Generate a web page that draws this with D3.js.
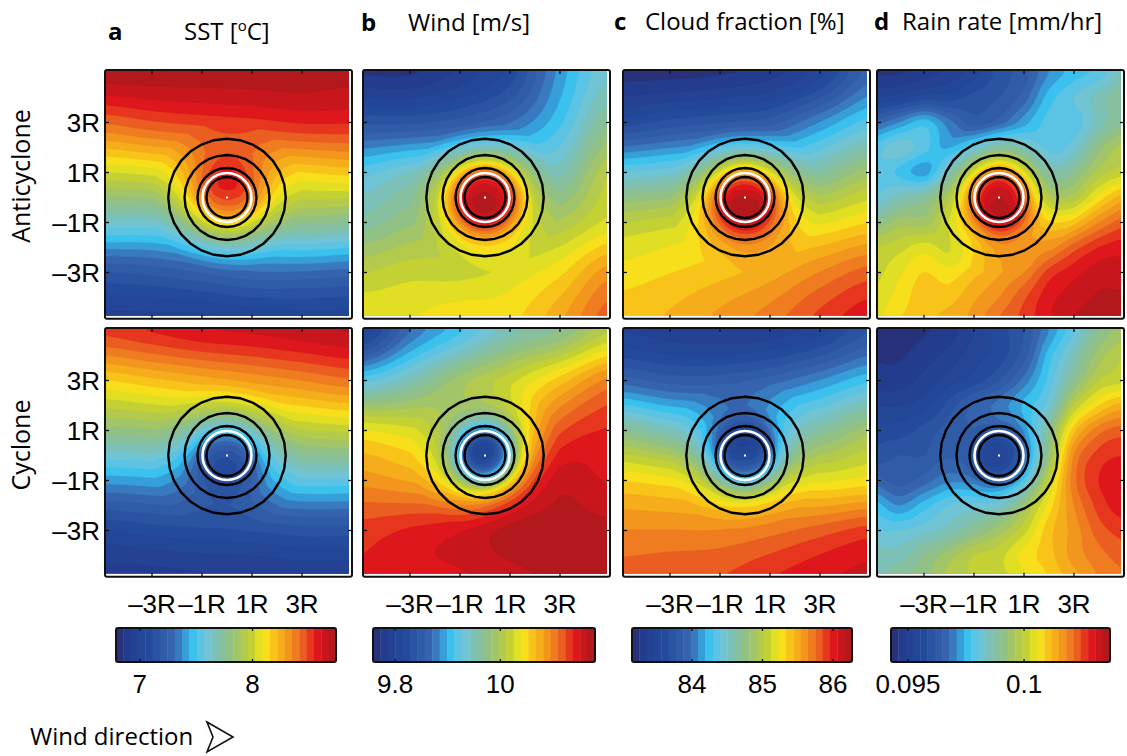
<!DOCTYPE html>
<html><head><meta charset="utf-8">
<script src="https://cdn.jsdelivr.net/npm/d3@7"></script>
<style>body{margin:0;background:#fff}svg{display:block}</style>
</head><body>
<svg id="fig" width="1127" height="756"></svg>
<script>
// ---------------- data ----------------
// coarse grid nodes (eddy radii R), rows listed from north (top) to south
const gridX = [-5, -3, -1, 1, 3, 5];
const gridY = [5, 3, 1, -1, -3, -5];
const fineX = [-5, -4, -3, -2, -1, 0, 1, 2, 3, 4, 5];
const fineY = [5, 4, 3, 2, 1, 0, -1, -2, -3, -4, -5];

// SST [ºC]
const sstAnti = [
  [8.72, 8.72, 8.72, 8.72, 8.72, 8.70],
  [8.42, 8.47, 8.50, 8.52, 8.55, 8.55],
  [8.02, 8.05, 8.10, 8.12, 8.15, 8.18],
  [7.62, 7.62, 7.68, 7.72, 7.78, 7.75],
  [7.18, 7.20, 7.25, 7.30, 7.30, 7.28],
  [6.95, 6.95, 6.95, 6.98, 7.00, 7.00]
];
const sstCyc = [
  [8.50, 8.55, 8.60, 8.62, 8.65, 8.68],
  [8.15, 8.20, 8.25, 8.30, 8.35, 8.40],
  [7.80, 7.82, 7.85, 7.90, 7.95, 7.98],
  [7.40, 7.42, 7.45, 7.50, 7.55, 7.55],
  [7.05, 7.08, 7.10, 7.12, 7.15, 7.15],
  [6.88, 6.88, 6.90, 6.90, 6.92, 6.92]
];
// Wind speed [m/s]
const windAnti = [
  [9.77, 9.77, 9.79, 9.82, 9.89, 9.94],
  [9.84, 9.84, 9.85, 9.87, 9.91, 9.97],
  [9.92, 9.94, 9.95, 9.95, 9.95, 10.01],
  [9.96, 9.98, 9.99, 9.99, 10.00, 10.03],
  [10.01, 10.02, 10.02, 10.03, 10.05, 10.09],
  [10.04, 10.04, 10.05, 10.05, 10.08, 10.12]
];
const windCyc = [
  [9.80, 9.87, 9.91, 9.95, 9.97, 10.01],
  [9.92, 9.95, 9.99, 10.02, 10.06, 10.10],
  [10.04, 10.03, 10.02, 10.05, 10.12, 10.14],
  [10.09, 10.08, 10.07, 10.12, 10.16, 10.15],
  [10.13, 10.14, 10.15, 10.17, 10.17, 10.17],
  [10.14, 10.15, 10.15, 10.16, 10.17, 10.17]
];
// Cloud fraction [%]
const cloudAnti = [
  [83.21, 83.21, 83.24, 83.31, 83.52, 83.93],
  [83.62, 83.71, 83.77, 83.84, 84.09, 84.34],
  [84.40, 84.46, 84.55, 84.55, 84.65, 84.87],
  [85.02, 85.08, 85.15, 85.18, 85.21, 85.33],
  [85.27, 85.33, 85.40, 85.49, 85.65, 85.80],
  [85.40, 85.46, 85.58, 85.71, 85.90, 86.05]
];
const cloudCyc = [
  [83.46, 83.40, 83.37, 83.40, 83.52, 83.77],
  [83.93, 83.84, 83.84, 83.93, 84.09, 84.27],
  [84.71, 84.55, 84.46, 84.55, 84.65, 84.87],
  [85.33, 85.27, 85.21, 85.27, 85.21, 85.27],
  [85.65, 85.65, 85.65, 85.71, 85.80, 85.90],
  [85.80, 85.83, 85.86, 85.96, 86.05, 86.11]
];
// Rain rate [mm/hr] on the finer 1R grid
const rainAnti = [
  [.09455,.09455,.09474,.09502,.09540,.09597,.09634,.09710,.09757,.09785,.09851],
  [.09521,.09540,.09568,.09568,.09597,.09616,.09663,.09757,.09804,.09851,.09899],
  [.09663,.09710,.09757,.09691,.09634,.09663,.09729,.09785,.09785,.09851,.09899],
  [.09785,.09823,.09785,.09729,.09757,.09804,.09804,.09785,.09823,.09917,.09974],
  [.09804,.09766,.09729,.09804,.09851,.09880,.09851,.09823,.09899,.09974,.10012],
  [.09804,.09851,.09880,.09899,.09899,.09899,.09899,.09899,.09974,.10068,.10134],
  [.09899,.09946,.09946,.09974,.09974,.09993,.10012,.10040,.10106,.10181,.10229],
  [.09993,.10012,.10040,.10012,.10040,.10087,.10106,.10163,.10229,.10276,.10295],
  [.10012,.10049,.10087,.10068,.10106,.10144,.10181,.10257,.10295,.10323,.10323],
  [.10031,.10068,.10106,.10106,.10144,.10181,.10238,.10295,.10323,.10342,.10342],
  [.10049,.10087,.10106,.10134,.10163,.10219,.10257,.10304,.10342,.10351,.10351]
];
const rainCyc = [
  [.09446,.09446,.09455,.09474,.09521,.09568,.09616,.09710,.09804,.09899,.09946],
  [.09455,.09455,.09474,.09502,.09540,.09568,.09634,.09757,.09851,.09946,.09993],
  [.09474,.09474,.09502,.09540,.09568,.09616,.09691,.09785,.09899,.09993,.10012],
  [.09521,.09521,.09540,.09597,.09663,.09710,.09757,.09823,.09993,.10087,.10134],
  [.09568,.09568,.09597,.09634,.09710,.09757,.09785,.09899,.10106,.10200,.10229],
  [.09597,.09616,.09616,.09663,.09729,.09757,.09804,.09946,.10181,.10257,.10276],
  [.09663,.09634,.09663,.09710,.09757,.09785,.09851,.10012,.10200,.10276,.10295],
  [.09757,.09710,.09757,.09804,.09823,.09851,.09946,.10068,.10181,.10257,.10295],
  [.09804,.09804,.09823,.09851,.09899,.09946,.10012,.10106,.10163,.10229,.10257],
  [.09851,.09851,.09899,.09946,.09993,.10012,.10068,.10106,.10163,.10200,.10229],
  [.09851,.09899,.09917,.09974,.09993,.10012,.10040,.10087,.10134,.10181,.10200]
];

// composite eddy anomaly as a function of distance from the eddy centre
const eddyRadii = [0, 0.5, 1, 1.5, 2, 2.5, 3];
const sstAntiEddy   = [0.60, 0.56, 0.45, 0.28, 0.14, 0.05, 0];
const sstCycEddy    = [-0.55, -0.50, -0.38, -0.22, -0.10, -0.04, 0];
const windAntiEddy  = [0.20, 0.19, 0.16, 0.09, 0.04, 0.015, 0];
const windCycEddy   = [-0.26, -0.23, -0.15, -0.063, -0.025, -0.008, 0];
const cloudAntiEddy = [1.31, 1.25, 1.00, 0.56, 0.25, 0.09, 0];
const cloudCycEddy  = [-1.31, -1.25, -0.94, -0.47, -0.19, -0.06, 0];
const rainAntiEddy  = [0.00443, 0.00415, 0.00321, 0.0017, 0.00075, 0.00028, 0];
const rainCycEddy   = [-0.00236, -0.00207, -0.00132, -0.00057, -0.00019, 0, 0];

// eddy outline contours and the 1R core circle
const outlineRadii = [0.82, 1.18, 1.7, 2.35];
const coreRadius = 0.98;

// colour-bar ranges and ticks
const sstRange = [6.79, 8.74],     sstTicks = [7, 8];
const windRange = [9.758, 10.18],  windTicks = [9.8, 10];
const cloudRange = [83.15, 86.27], cloudTicks = [84, 85, 86];
const rainRange = [0.09427, 0.1037], rainTicks = [0.095, 0.1];
const rainTickLabels = ["0.095", "0.1"];

const axisTicks = [-3, -1, 1, 3];
const axisTickLabels = ["\u20133R", "\u20131R", "1R", "3R"];
const rowNames = ["Anticyclone", "Cyclone"];
const panelLetters = ["a", "b", "c", "d"];
const panelTitles = ["SST [", "Wind [m/s]", "Cloud fraction [%]", "Rain rate [mm/hr]"];

// colour map
const cmapStops  = [0, 0.04, 0.15, 0.25, 0.30, 0.34, 0.40, 0.46, 0.52, 0.58, 0.63, 0.67, 0.71, 0.77, 0.84, 0.91, 1];
const cmapColors = ["#2a2b6c", "#243b8d", "#244b9b", "#3563ad", "#3b86c7", "#30c0ef", "#6cc6e0", "#7fc0b0", "#93c184", "#b2c94e", "#cbd42a", "#f7ea1b", "#f9c81a", "#f4a01c", "#ec6a22", "#e2171c", "#a8181c"];
const N_LEVELS = 30;

// ---------------- layout ----------------
const PX_PER_R = 25;
const colLeft = [105, 363, 623, 877];
const rowTop = [70, 328];
const xDom = [-4.88, 5.0];
const yDom = [5.1, -4.85];
const imgInset = 3;
const cbLeft = [116, 373, 632, 891];
const cbWidth = [220, 222, 220, 219];
const cbTop = 628, cbHeight = 34;

const svg = d3.select("#fig");
const cmap = d3.scaleLinear().domain(cmapStops).range(cmapColors).interpolate(d3.interpolateRgb);
const levelColors = d3.range(N_LEVELS).map(k => cmap((k + 0.5) / N_LEVELS));

function catmull(p0, p1, p2, p3, t) {
  const t2 = t * t, t3 = t2 * t;
  return 0.5 * (2 * p1 + (-p0 + p2) * t + (2 * p0 - 5 * p1 + 4 * p2 - p3) * t2 + (-p0 + 3 * p1 - 3 * p2 + p3) * t3);
}
function gridSampler(xs, ys, rows) {
  const nx = xs.length, ny = ys.length;
  const ix = d3.scaleLinear().domain([xs[0], xs[nx - 1]]).range([0, nx - 1]).clamp(true);
  const iy = d3.scaleLinear().domain([ys[0], ys[ny - 1]]).range([0, ny - 1]).clamp(true);
  const at = (r, c) => rows[Math.max(0, Math.min(ny - 1, r))][Math.max(0, Math.min(nx - 1, c))];
  return (x, y) => {
    const u = ix(x), v = iy(y);
    const i = Math.min(Math.floor(u), nx - 2), j = Math.min(Math.floor(v), ny - 2);
    const fu = u - i, fv = v - j;
    const c = [];
    for (let r = -1; r <= 2; r++) c.push(catmull(at(j + r, i - 1), at(j + r, i), at(j + r, i + 1), at(j + r, i + 2), fu));
    return catmull(c[0], c[1], c[2], c[3], fv);
  };
}

const panels = [
  { col: 0, row: 0, grid: sstAnti, xs: gridX, ys: gridY, eddy: sstAntiEddy, range: sstRange },
  { col: 0, row: 1, grid: sstCyc, xs: gridX, ys: gridY, eddy: sstCycEddy, range: sstRange },
  { col: 1, row: 0, grid: windAnti, xs: gridX, ys: gridY, eddy: windAntiEddy, range: windRange },
  { col: 1, row: 1, grid: windCyc, xs: gridX, ys: gridY, eddy: windCycEddy, range: windRange },
  { col: 2, row: 0, grid: cloudAnti, xs: gridX, ys: gridY, eddy: cloudAntiEddy, range: cloudRange },
  { col: 2, row: 1, grid: cloudCyc, xs: gridX, ys: gridY, eddy: cloudCycEddy, range: cloudRange },
  { col: 3, row: 0, grid: rainAnti, xs: fineX, ys: fineY, eddy: rainAntiEddy, range: rainRange },
  { col: 3, row: 1, grid: rainCyc, xs: fineX, ys: fineY, eddy: rainCycEddy, range: rainRange }
];

const defs = svg.append("defs");
const boxW = (xDom[1] - xDom[0]) * PX_PER_R;
const boxH = (yDom[0] - yDom[1]) * PX_PER_R;

panels.forEach((p, idx) => {
  const x0 = colLeft[p.col], y0 = rowTop[p.row];
  const xs = d3.scaleLinear().domain(xDom).range([x0, x0 + boxW]);
  const ys = d3.scaleLinear().domain(yDom).range([y0, y0 + boxH]);
  const imgW = boxW - imgInset, imgH = boxH - imgInset;
  const bg = gridSampler(p.xs, p.ys, p.grid);
  const anomaly = d3.scaleLinear().domain(eddyRadii).range(p.eddy).clamp(true);
  const color = d3.scaleQuantize().domain(p.range).range(levelColors);
  const nx = Math.round(imgW / 1.5), ny = Math.round(imgH / 1.5);
  const cw = imgW / nx, ch = imgH / ny;
  const values = new Float64Array(nx * ny);
  for (let j = 0; j < ny; j++) {
    const y = ys.invert(y0 + (j + 0.5) * ch);
    for (let i = 0; i < nx; i++) {
      const x = xs.invert(x0 + (i + 0.5) * cw);
      values[j * nx + i] = bg(x, y) + anomaly(Math.hypot(x, y));
    }
  }
  const thresholds = color.thresholds();
  const bands = d3.contours().size([nx, ny]).thresholds(thresholds)(values);
  const proj = d3.geoTransform({ point(px, py) { this.stream.point(x0 + px * cw, y0 + py * ch); } });
  const path = d3.geoPath(proj);

  defs.append("clipPath").attr("id", "clip" + idx)
    .append("rect").attr("x", x0).attr("y", y0).attr("width", imgW).attr("height", imgH);
  const g = svg.append("g").attr("clip-path", `url(#clip${idx})`);
  g.append("rect").attr("x", x0).attr("y", y0).attr("width", imgW).attr("height", imgH)
    .attr("fill", levelColors[0]);
  g.selectAll("path.band").data(bands).join("path").attr("class", "band")
    .attr("d", path)
    .attr("fill", (d, k) => levelColors[k + 1])
    .attr("stroke", (d, k) => levelColors[k + 1]).attr("stroke-width", 0.4);

  // eddy outline contours
  const cx = xs(0), cy = ys(0);
  const ring = r => d3.lineRadial().curve(d3.curveLinearClosed)
    .angle(a => a).radius(() => r * PX_PER_R)(d3.range(28).map(k => k * Math.PI / 14));
  const eg = svg.append("g").attr("transform", `translate(${cx},${cy})`);
  eg.selectAll("path.outline").data(outlineRadii).join("path").attr("class", "outline")
    .attr("d", r => ring(r)).attr("fill", "none").attr("stroke", "#000").attr("stroke-width", 2.4);
  eg.append("circle").attr("r", coreRadius * PX_PER_R).attr("fill", "none")
    .attr("stroke", "#fff").attr("stroke-width", 2.6);
  eg.append("rect").attr("x", -1).attr("y", -1).attr("width", 2).attr("height", 2).attr("fill", "#fff");

  // frame and inward ticks
  svg.append("rect").attr("x", x0).attr("y", y0).attr("width", boxW).attr("height", boxH)
    .attr("rx", 2).attr("fill", "none").attr("stroke", "#111").attr("stroke-width", 2);
  const tk = svg.append("g").attr("stroke", "#111").attr("stroke-width", 1.3);
  axisTicks.forEach(t => {
    tk.append("line").attr("x1", xs(t)).attr("x2", xs(t)).attr("y1", y0).attr("y2", y0 + 4);
    tk.append("line").attr("x1", xs(t)).attr("x2", xs(t)).attr("y1", y0 + boxH).attr("y2", y0 + boxH - 4);
    tk.append("line").attr("y1", ys(t)).attr("y2", ys(t)).attr("x1", x0).attr("x2", x0 + 4);
    tk.append("line").attr("y1", ys(t)).attr("y2", ys(t)).attr("x1", x0 + boxW).attr("x2", x0 + boxW - 4);
  });

  // tick labels: y on the left column, x under the bottom row
  if (p.col === 0) {
    svg.append("g").selectAll("text").data(axisTicks).join("text")
      .attr("x", x0 - 5).attr("y", t => ys(t) + 9.5).attr("text-anchor", "end")
      .attr("font-family", "Liberation Sans, Arial, sans-serif").attr("font-size", 26)
      .text((t, i) => axisTickLabels[i]);
  }
  if (p.row === 1) {
    svg.append("g").selectAll("text").data(axisTicks).join("text")
      .attr("x", t => xs(t)).attr("y", 613).attr("text-anchor", "middle")
      .attr("font-family", "Liberation Sans, Arial, sans-serif").attr("font-size", 26)
      .text((t, i) => axisTickLabels[i]);
  }
});

// colour bars
const bars = [
  { range: sstRange, ticks: sstTicks, labels: sstTicks.map(String) },
  { range: windRange, ticks: windTicks, labels: windTicks.map(String) },
  { range: cloudRange, ticks: cloudTicks, labels: cloudTicks.map(String) },
  { range: rainRange, ticks: rainTicks, labels: rainTickLabels }
];
bars.forEach((b, c) => {
  const sx = d3.scaleLinear().domain(b.range).range([cbLeft[c], cbLeft[c] + cbWidth[c]]);
  const edges = d3.range(N_LEVELS + 1).map(k => b.range[0] + (b.range[1] - b.range[0]) * k / N_LEVELS);
  svg.append("g").selectAll("rect").data(levelColors).join("rect")
    .attr("x", (d, k) => sx(edges[k])).attr("width", (d, k) => sx(edges[k + 1]) - sx(edges[k]) + 0.4)
    .attr("y", cbTop).attr("height", cbHeight).attr("fill", d => d);
  svg.append("rect").attr("x", cbLeft[c]).attr("y", cbTop).attr("width", cbWidth[c]).attr("height", cbHeight)
    .attr("rx", 2).attr("fill", "none").attr("stroke", "#111").attr("stroke-width", 2);
  const tg = svg.append("g").attr("stroke", "#111").attr("stroke-width", 1.3);
  b.ticks.forEach(t => {
    tg.append("line").attr("x1", sx(t)).attr("x2", sx(t)).attr("y1", cbTop).attr("y2", cbTop + 3);
    tg.append("line").attr("x1", sx(t)).attr("x2", sx(t)).attr("y1", cbTop + cbHeight).attr("y2", cbTop + cbHeight - 3);
  });
  svg.append("g").selectAll("text").data(b.ticks).join("text")
    .attr("x", t => sx(t)).attr("y", 693).attr("text-anchor", "middle")
    .attr("font-family", "Liberation Sans, Arial, sans-serif").attr("font-size", 26)
    .text((t, i) => b.labels[i]);
});

// column headings
const headY = [40, 31, 30, 30];
const letterX = [108, 361, 614, 874];
const titleX = [184, 408, 645, 902];
panelLetters.forEach((l, c) => {
  svg.append("text").attr("x", letterX[c]).attr("y", headY[c])
    .attr("font-family", "Open Sans, sans-serif").attr("font-weight", "bold").attr("font-size", 24).text(l);
  const t = svg.append("text").attr("x", titleX[c]).attr("y", headY[c])
    .attr("font-family", "Open Sans, sans-serif").attr("font-size", 24).text(panelTitles[c]);
  if (c === 0) {
    t.append("tspan").attr("font-size", 15).attr("dy", -9).text("o");
    t.append("tspan").attr("dy", 9).text("C]");
  }
});

// row labels
const rowCenter = [176, 445];
rowNames.forEach((name, r) => {
  svg.append("text").attr("transform", `translate(30,${rowCenter[r]}) rotate(-90)`)
    .attr("text-anchor", "middle").attr("font-family", "Open Sans, sans-serif").attr("font-size", 25).text(name);
});

// wind direction note
svg.append("text").attr("x", 30).attr("y", 745).attr("font-family", "Open Sans, sans-serif")
  .attr("font-size", 24).text("Wind direction");
svg.append("path").attr("d", "M207,722 L233,737 L207,752 L213,737 Z")
  .attr("fill", "none").attr("stroke", "#111").attr("stroke-width", 1.6).attr("stroke-linejoin", "miter");
</script>
</body></html>
